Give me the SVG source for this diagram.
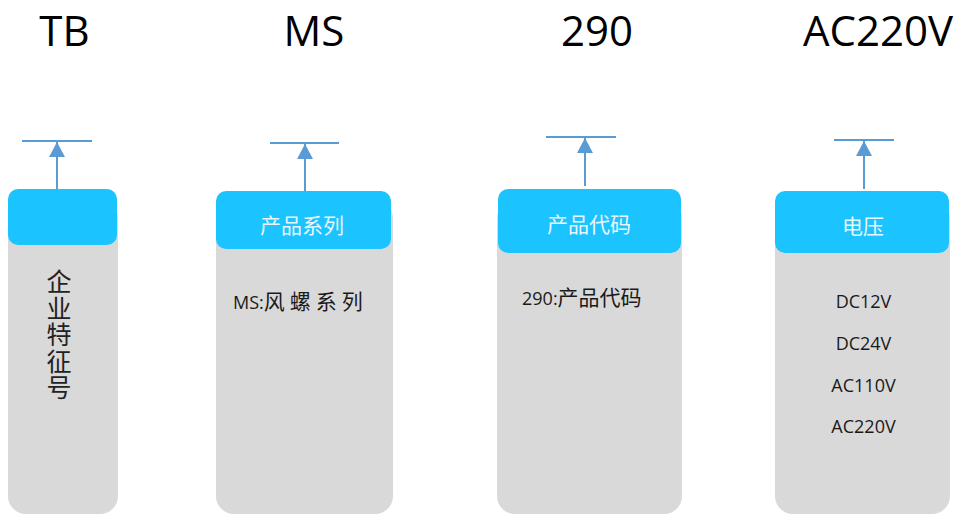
<svg xmlns="http://www.w3.org/2000/svg" width="957" height="514" viewBox="0 0 957 514">
<defs>
<marker id="ah" viewBox="0 0 15 16" refX="15" refY="8" markerWidth="15" markerHeight="16" markerUnits="userSpaceOnUse" orient="auto">
<path d="M0,0 L15,8 L0,16 Z" fill="#5b9bd5"/>
</marker>
<style>
.title{font-family:"Open Sans","Noto Sans",sans-serif;font-size:42px;fill:#000;text-anchor:middle}
.body{fill:#d9d9d9}
.head{fill:#1cc4ff}
.hl{font-family:"Noto Sans CJK SC",sans-serif;font-size:21px;fill:#eaf6fc;text-anchor:middle}
.tx{font-family:"Open Sans","Noto Sans CJK SC",sans-serif;font-size:18px;fill:#1a1a1a}
.cjk{font-family:"Noto Sans CJK SC",sans-serif;font-size:21px;fill:#1a1a1a}
.vert{font-family:"Noto Sans CJK SC",sans-serif;font-size:25px;fill:#222;writing-mode:vertical-rl;text-orientation:upright;letter-spacing:1.5px}
.v{font-family:"Open Sans",sans-serif;font-size:18px;fill:#1a1a1a;text-anchor:middle}
.ln{stroke:#5b9bd5;stroke-width:2;fill:none}
</style>
</defs>
<g id="titles">
<text class="title" x="64.5" y="46">TB</text>
<text class="title" x="314" y="46">MS</text>
<text class="title" x="597" y="46">290</text>
<text class="title" x="878" y="46">AC220V</text>
</g>
<g id="node-tb">
<rect class="body" x="8" y="200" width="110" height="314" rx="18"/>
<rect class="head" x="8" y="189" width="109" height="56" rx="10"/>
<text class="vert" x="59" y="269">企业特征号</text>
</g>
<g id="node-ms">
<rect class="body" x="216" y="200" width="177" height="314" rx="18"/>
<rect class="head" x="216" y="191" width="175" height="58" rx="10"/>
<text class="hl" x="302" y="233">产品系列</text>
<text class="tx" x="233" y="309">MS:<tspan class="cjk" font-size="23" letter-spacing="5">风螺系列</tspan></text>
</g>
<g id="node-290">
<rect class="body" x="497" y="200" width="185" height="314" rx="18"/>
<rect class="head" x="498" y="189" width="183" height="64" rx="10"/>
<text class="hl" x="589" y="232">产品代码</text>
<text class="tx" x="522" y="305">290:<tspan class="cjk">产品代码</tspan></text>
</g>
<g id="node-voltage">
<rect class="body" x="775" y="200" width="175" height="314" rx="18"/>
<rect class="head" x="775" y="191" width="174" height="62" rx="10"/>
<text class="hl" x="863" y="234">电压</text>
<text class="v" x="863.5" y="308">DC12V</text>
<text class="v" x="863.5" y="350">DC24V</text>
<text class="v" x="863.5" y="391.5">AC110V</text>
<text class="v" x="863.5" y="433">AC220V</text>
</g>
<g id="connectors">
<line class="ln" x1="22" y1="141" x2="92" y2="141"/>
<line class="ln" x1="57" y1="189" x2="57" y2="142" marker-end="url(#ah)"/>
<line class="ln" x1="270" y1="143" x2="339" y2="143"/>
<line class="ln" x1="305" y1="191" x2="305" y2="144" marker-end="url(#ah)"/>
<line class="ln" x1="546" y1="137" x2="616" y2="137"/>
<line class="ln" x1="585" y1="186" x2="585" y2="138" marker-end="url(#ah)"/>
<line class="ln" x1="834" y1="140" x2="894" y2="140"/>
<line class="ln" x1="864" y1="189" x2="864" y2="141" marker-end="url(#ah)"/>
</g>
</svg>
